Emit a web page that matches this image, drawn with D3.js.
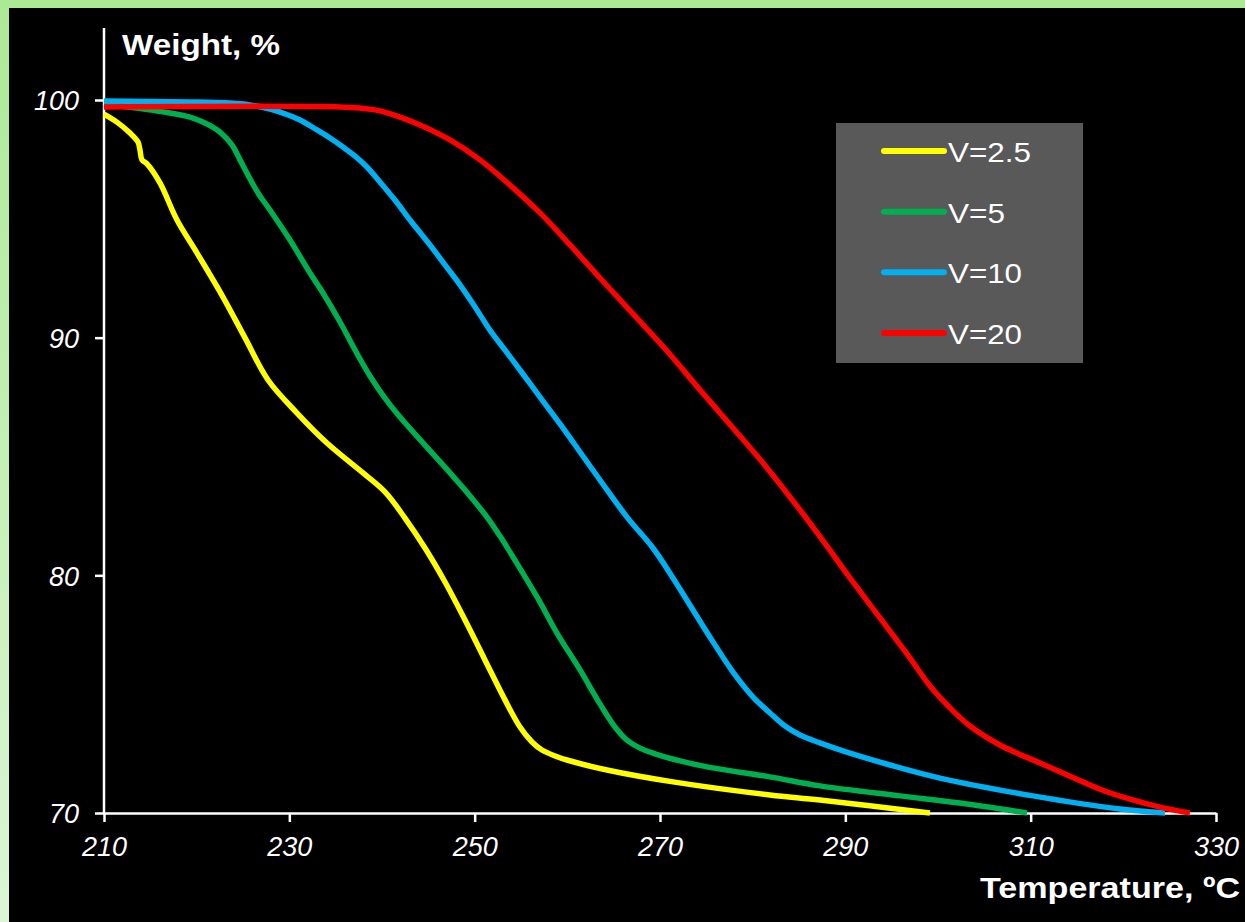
<!DOCTYPE html>
<html>
<head>
<meta charset="utf-8">
<script src="https://cdn.jsdelivr.net/npm/d3@7"></script>
<style>
  html, body { margin: 0; padding: 0; background: #000; }
  svg { display: block; }
</style>
</head>
<body>
<svg id="chart" width="1245" height="922"></svg>
<script>
// Thermogravimetric curves: weight loss vs temperature at four heating rates
const seriesNames = ["V=2.5", "V=5", "V=10", "V=20"];
const seriesColors = ["#ffff00", "#00b050", "#00b0f0", "#ff0000"];

const tempV25 = [210.00, 211.40, 212.81, 213.67, 213.88, 214.10, 214.64, 216.04, 217.88, 220.04, 222.84, 225.22, 227.70, 230.83, 234.06, 237.95, 240.32, 242.48, 244.64, 246.80, 248.96, 251.11, 253.27, 254.89, 256.19, 257.26, 258.67, 259.96, 264.28, 271.40, 281.87, 287.26, 299.13];
const weightV25 = [99.41, 99.07, 98.61, 98.23, 97.90, 97.48, 97.31, 96.51, 94.95, 93.56, 91.71, 89.99, 88.22, 86.83, 85.57, 84.31, 83.51, 82.41, 81.15, 79.72, 78.12, 76.44, 74.76, 73.62, 72.99, 72.65, 72.40, 72.23, 71.81, 71.31, 70.76, 70.55, 70.00];

const tempV5 = [210.00, 216.37, 219.28, 220.90, 222.52, 223.81, 224.68, 225.54, 226.62, 227.91, 230.07, 232.23, 233.63, 235.47, 237.09, 238.70, 240.32, 241.94, 244.42, 247.34, 249.50, 251.33, 252.73, 254.14, 256.73, 258.88, 261.37, 263.52, 265.14, 266.44, 267.84, 269.24, 272.16, 275.07, 281.87, 287.26, 295.90, 302.37, 309.60];
const weightV5 = [99.83, 99.50, 99.28, 99.03, 98.65, 98.11, 97.48, 96.84, 96.09, 95.37, 94.11, 92.72, 91.88, 90.66, 89.48, 88.39, 87.46, 86.66, 85.57, 84.31, 83.34, 82.45, 81.65, 80.77, 79.09, 77.57, 76.02, 74.59, 73.62, 73.07, 72.73, 72.52, 72.19, 71.94, 71.52, 71.14, 70.72, 70.42, 70.00];

const tempV10 = [210.00, 219.28, 223.60, 225.75, 227.91, 229.32, 231.15, 232.99, 234.39, 235.79, 237.09, 238.38, 239.78, 241.40, 243.02, 245.18, 246.80, 248.42, 250.04, 251.65, 253.27, 254.89, 257.05, 259.21, 261.37, 263.52, 266.44, 269.24, 271.40, 273.56, 275.72, 277.88, 280.04, 281.87, 283.49, 285.11, 287.26, 290.07, 294.82, 300.22, 310.25, 319.64, 324.49];
const weightV10 = [99.96, 99.92, 99.87, 99.79, 99.62, 99.45, 99.16, 98.74, 98.40, 98.02, 97.64, 97.18, 96.55, 95.79, 94.95, 93.90, 93.06, 92.22, 91.29, 90.32, 89.48, 88.64, 87.50, 86.37, 85.19, 84.01, 82.45, 81.15, 79.89, 78.54, 77.20, 75.93, 74.88, 74.21, 73.66, 73.28, 72.95, 72.57, 72.02, 71.47, 70.72, 70.17, 70.00];

const tempV20 = [210.00, 235.47, 237.63, 239.78, 241.94, 244.10, 247.34, 250.58, 253.81, 257.05, 260.29, 263.52, 267.09, 270.76, 274.32, 277.88, 281.55, 285.11, 288.02, 290.50, 293.74, 296.98, 299.14, 301.30, 303.45, 306.69, 311.01, 314.24, 317.48, 320.72, 323.96, 327.19];
const weightV20 = [99.71, 99.71, 99.66, 99.54, 99.28, 98.95, 98.32, 97.48, 96.42, 95.25, 93.90, 92.51, 91.00, 89.44, 87.80, 86.20, 84.52, 82.75, 81.23, 79.89, 78.21, 76.52, 75.34, 74.42, 73.66, 72.86, 72.10, 71.55, 71.00, 70.58, 70.25, 70.00];

const xTicks = [210, 230, 250, 270, 290, 310, 330];
const yTicks = [70, 80, 90, 100];

const seriesTemps = [tempV25, tempV5, tempV10, tempV20];
const seriesWeights = [weightV25, weightV5, weightV10, weightV20];

const svg = d3.select("#chart");
const W = 1245, H = 922;

// Frame: light green border on top and left, black plot background
const defs = svg.append("defs");
const grad = defs.append("linearGradient").attr("id", "frameGrad")
  .attr("x1", 0).attr("y1", 0).attr("x2", 0).attr("y2", 1);
grad.append("stop").attr("offset", "0%").attr("stop-color", "#ace995");
grad.append("stop").attr("offset", "100%").attr("stop-color", "#dbf6d5");
svg.append("rect").attr("width", W).attr("height", H).attr("fill", "url(#frameGrad)");
svg.append("rect").attr("x", 9).attr("y", 8).attr("width", W - 9).attr("height", H - 8).attr("fill", "#000");

const x = d3.scaleLinear().domain([210, 330]).range([104, 1216]);
const y = d3.scaleLinear().domain([70, 100]).range([813, 100]);

const axisColor = "#ffffff";
const font = "'Liberation Sans', Arial, sans-serif";

// Vertical axis line extends above the top tick
svg.append("line").attr("x1", x(210)).attr("x2", x(210))
  .attr("y1", 28).attr("y2", y(70))
  .attr("stroke", axisColor).attr("stroke-width", 2.5);

const yAxis = svg.append("g").attr("transform", `translate(${x(210)},0)`)
  .call(d3.axisLeft(y).tickValues(yTicks).tickSize(9).tickPadding(16).tickSizeOuter(0));
yAxis.select(".domain").remove();
yAxis.selectAll(".tick line").attr("stroke", axisColor).attr("stroke-width", 2.5);
yAxis.selectAll(".tick text").attr("fill", axisColor)
  .style("font-family", font).style("font-size", "27px").style("font-style", "italic")
  .attr("dy", "0.36em");

const xAxis = svg.append("g").attr("transform", `translate(0,${y(70)})`)
  .call(d3.axisBottom(x).tickValues(xTicks).tickSize(9).tickPadding(14).tickSizeOuter(0));
xAxis.select(".domain").attr("stroke", axisColor).attr("stroke-width", 2.5);
xAxis.selectAll(".tick line").attr("stroke", axisColor).attr("stroke-width", 2.5);
xAxis.selectAll(".tick text").attr("fill", axisColor)
  .style("font-family", font).style("font-size", "27px").style("font-style", "italic")
  .attr("dy", "0.75em");

// Curves
const line = d3.line()
  .x(d => x(d[0]))
  .y(d => y(d[1]))
  .curve(d3.curveCatmullRom.alpha(0.5));

seriesNames.forEach((name, i) => {
  const pts = seriesTemps[i].map((t, k) => [t, seriesWeights[i][k]]);
  svg.append("path").datum(pts)
    .attr("d", line)
    .attr("fill", "none")
    .attr("stroke", seriesColors[i])
    .attr("stroke-width", 5.5)
    .attr("stroke-linejoin", "round")
    .attr("stroke-linecap", "butt");
});

// Axis titles
svg.append("text").attr("x", 122).attr("y", 55)
  .attr("fill", "#fff").style("font-family", font)
  .style("font-weight", "bold").style("font-size", "29px")
  .attr("textLength", 158).attr("lengthAdjust", "spacingAndGlyphs")
  .text("Weight, %");

svg.append("text").attr("x", 980).attr("y", 898)
  .attr("fill", "#fff").style("font-family", font)
  .style("font-weight", "bold").style("font-size", "30px")
  .attr("textLength", 260).attr("lengthAdjust", "spacingAndGlyphs")
  .text("Temperature, \u00baC");

// Legend
const legendTextWidths = [83, 57, 74, 74];
const legend = svg.append("g");
legend.append("rect").attr("x", 836).attr("y", 123).attr("width", 247).attr("height", 240)
  .attr("fill", "#595959");
const legendY = d3.scalePoint().domain(seriesNames).range([151, 333]);
seriesNames.forEach((name, i) => {
  const ly = legendY(name);
  legend.append("line").attr("x1", 884).attr("x2", 944).attr("y1", ly).attr("y2", ly)
    .attr("stroke", seriesColors[i]).attr("stroke-width", 6).attr("stroke-linecap", "round");
  legend.append("text").attr("x", 948).attr("y", ly + 11)
    .attr("fill", "#fff").style("font-family", font).style("font-size", "27px")
    .attr("textLength", legendTextWidths[i]).attr("lengthAdjust", "spacingAndGlyphs")
    .text(name);
});
</script>
</body>
</html>
